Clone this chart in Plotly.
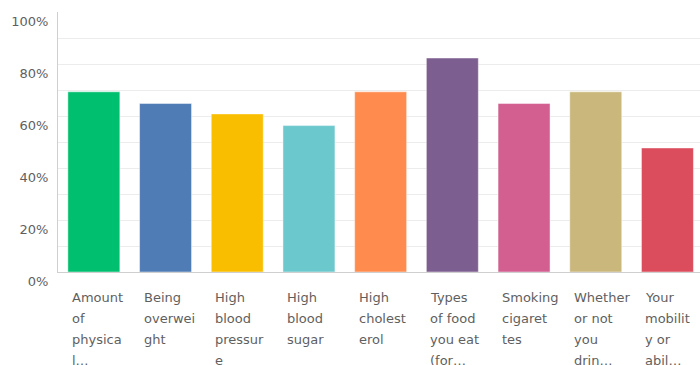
import plotly.graph_objects as go

# Share of respondents selecting each factor
label_lines = [
    ["Amount", "of", "physica", "l…"],
    ["Being", "overwei", "ght"],
    ["High", "blood", "pressur", "e"],
    ["High", "blood", "sugar"],
    ["High", "cholest", "erol"],
    ["Types", "of food", "you eat", "(for…"],
    ["Smoking", "cigaret", "tes"],
    ["Whether", "or not", "you", "drin…"],
    ["Your", "mobilit", "y or", "abil…"],
]
values = [0.693, 0.648, 0.608, 0.563, 0.693, 0.823, 0.648, 0.693, 0.477]
colors = ["#00BF6F", "#507CB6", "#F9BE00", "#6BC8CD", "#FF8B4F",
          "#7D5E90", "#D25F90", "#C9B77C", "#DB4D5C"]
y_tickvals = [0, 0.2, 0.4, 0.6, 0.8, 1.0]
y_ticktext = ["0%", "20%", "40%", "60%", "80%", "100%"]

x = list(range(len(values)))

fig = go.Figure(go.Bar(
    x=x, y=values,
    marker=dict(color=colors, line=dict(color="rgba(255,255,255,0.45)", width=1)),
    hoverinfo="skip",
))

font_family = "'DejaVu Sans', sans-serif"
text_color = "#5f5f5f"

# Left-aligned, wrapped category labels below each bar
annotations = []
for i, lines in enumerate(label_lines):
    for j, line in enumerate(lines):
        annotations.append(dict(
            x=i, xref="x", y=0, yref="y",
            text=line, showarrow=False,
            xanchor="left", yanchor="middle",
            xshift=-24, yshift=-25.5 - 20.9 * j,
            font=dict(family=font_family, size=13, color=text_color),
        ))

fig.update_layout(
    width=700, height=365,
    margin=dict(l=58, r=0, t=12, b=93),
    paper_bgcolor="white", plot_bgcolor="white",
    bargap=0.275,
    showlegend=False,
    annotations=annotations,
    xaxis=dict(
        range=[-0.5, 8.454],
        showticklabels=False, showgrid=False, zeroline=False,
        showline=True, linecolor="#cfcfcf", linewidth=1,
        fixedrange=True,
    ),
    yaxis=dict(
        range=[0, 1],
        tickvals=y_tickvals, ticktext=y_ticktext,
        ticklabelposition="outside bottom",
        showgrid=True, gridcolor="#ececec", gridwidth=1,
        minor=dict(dtick=0.1, showgrid=True, gridcolor="#ececec", gridwidth=1),
        zeroline=False,
        showline=True, linecolor="#cfcfcf", linewidth=1,
        ticks="", ticklabelstandoff=6,
        tickfont=dict(family=font_family, size=13, color=text_color),
        fixedrange=True,
    ),
)

fig.write_html("out.html")
